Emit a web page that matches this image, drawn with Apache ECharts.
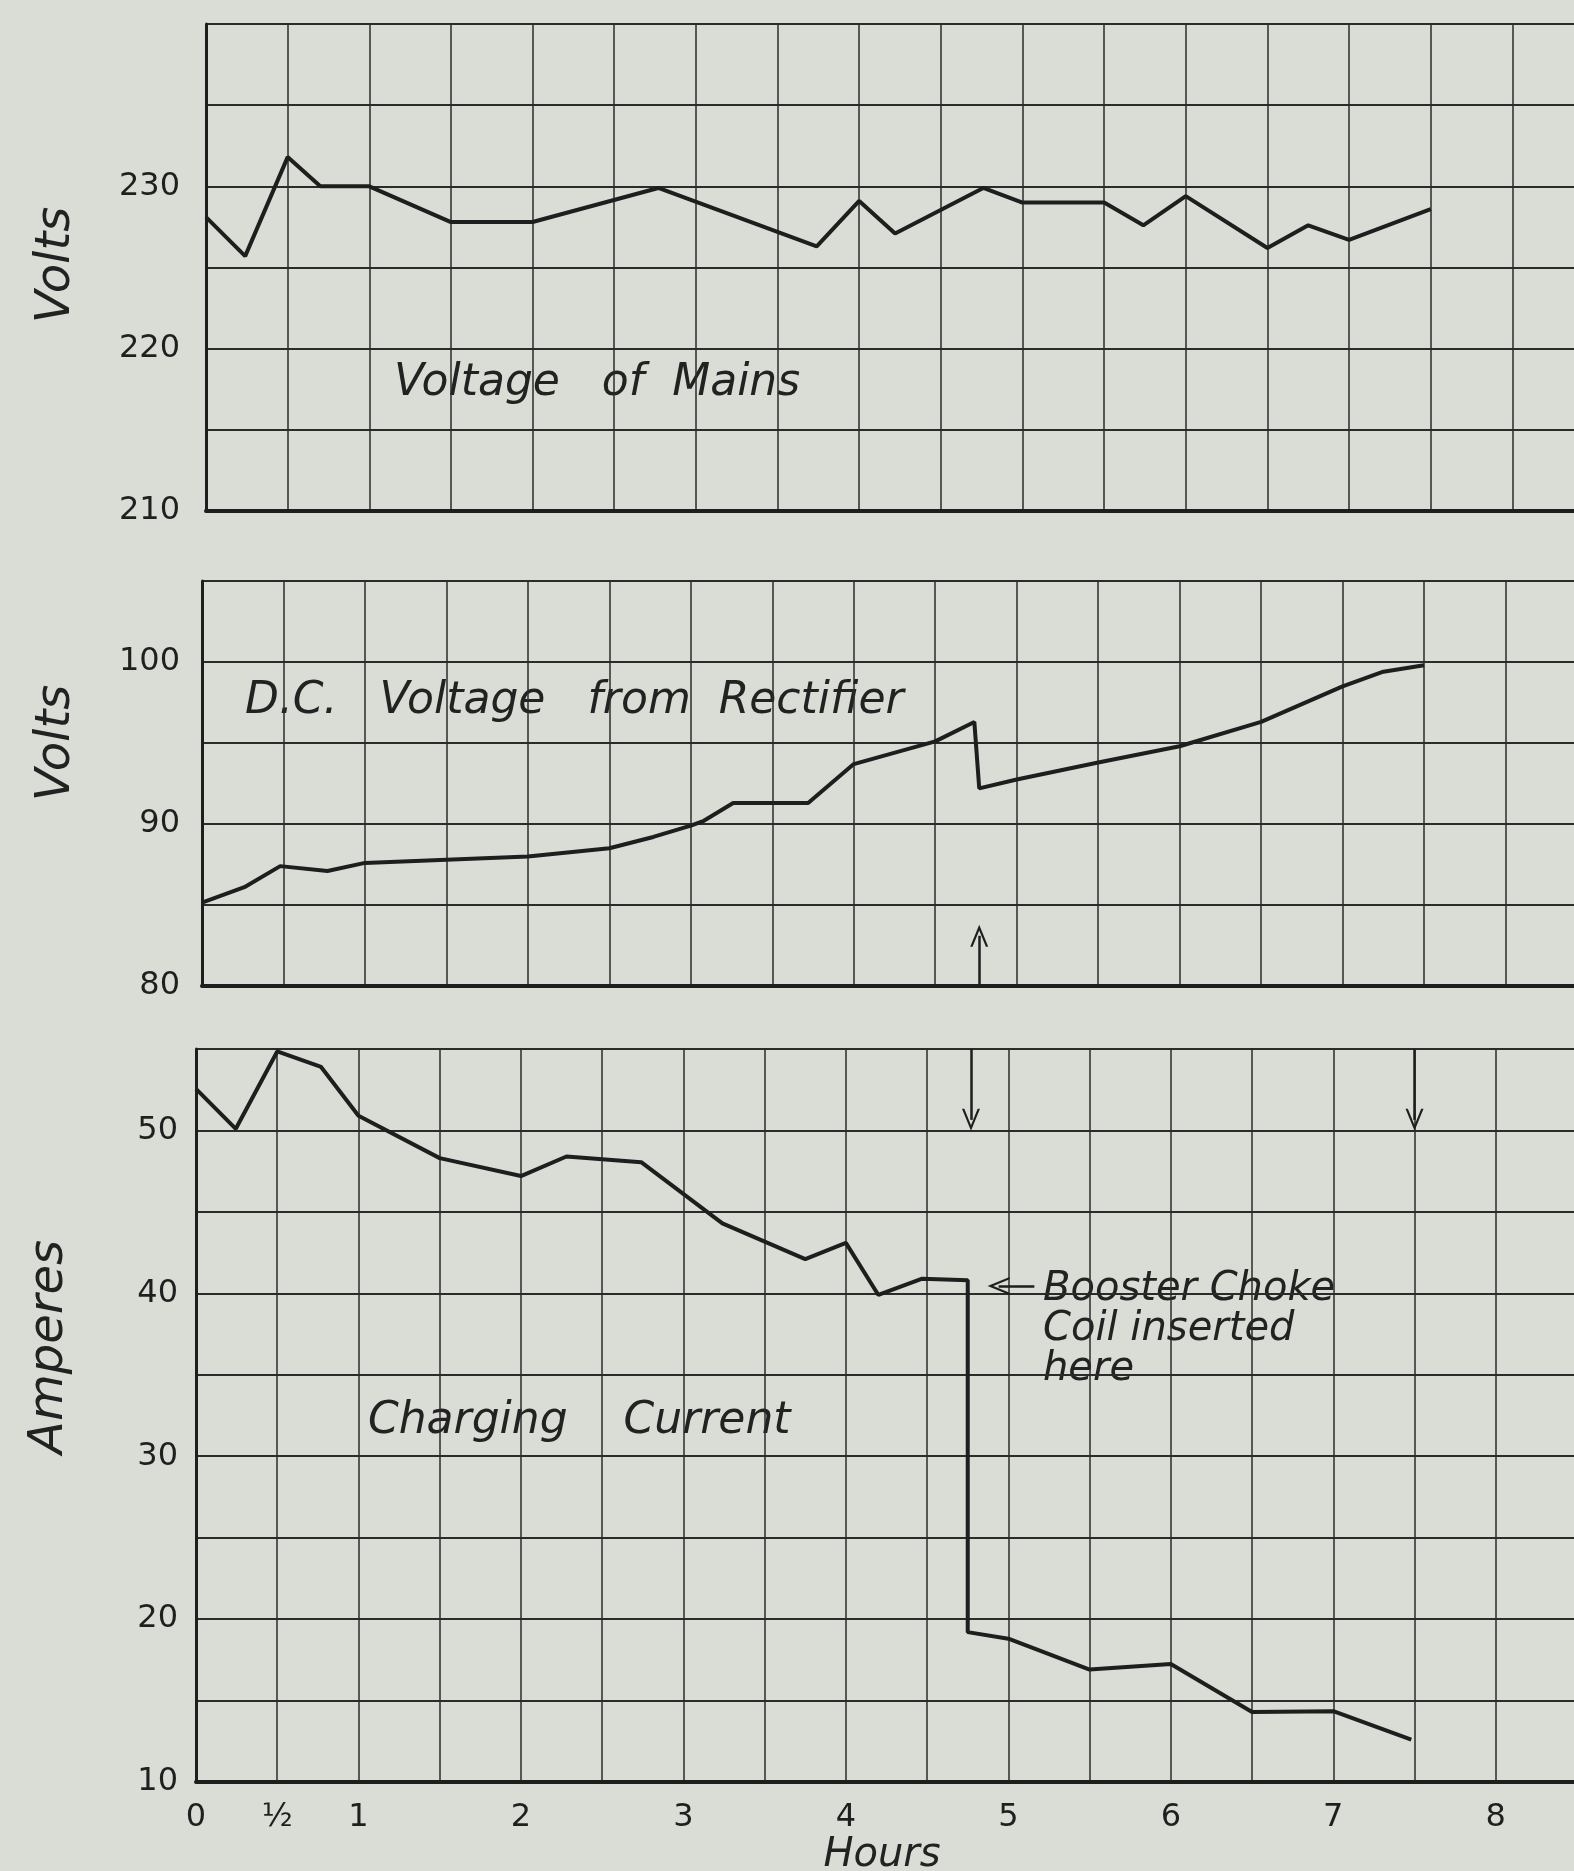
<!DOCTYPE html>
<html>
<head>
<meta charset="utf-8">
<script src="https://cdn.jsdelivr.net/npm/echarts@6/dist/echarts.min.js"></script>
<style>
    html, body {
        margin: 0;
        padding: 0;
        background: #d9ddd6;
    }
    #main {
        width: 1574px;
        height: 1871px;
    }
</style>
</head>
<body>
<div id="main"></div>
<script>
// readings against hours from start of charge
var mainsHours = [0, 0.24, 0.5, 0.7, 1.0, 1.5, 2.0, 2.77, 3.74, 4.0, 4.22, 4.76, 5.0, 5.5, 5.74, 6.0, 6.5, 6.75, 7.0, 7.5];
var mainsVolts = [228.1, 225.7, 231.8, 230.0, 230.0, 227.8, 227.8, 229.9, 226.3, 229.1, 227.1, 229.9, 229.0, 229.0, 227.6, 229.4, 226.2, 227.6, 226.7, 228.6];

var dcHours = [0, 0.26, 0.48, 0.77, 1.0, 1.5, 2.0, 2.5, 2.77, 3.0, 3.08, 3.26, 3.72, 4.0, 4.5, 4.74, 4.77, 5.0, 5.5, 6.0, 6.5, 7.0, 7.25, 7.5];
var dcVolts = [85.15, 86.1, 87.4, 87.1, 87.6, 87.8, 88.0, 88.5, 89.2, 89.9, 90.2, 91.3, 91.3, 93.7, 95.1, 96.3, 92.2, 92.75, 93.8, 94.8, 96.3, 98.5, 99.4, 99.8];

var currentHours = [0, 0.245, 0.5, 0.77, 1.0, 1.5, 2.0, 2.28, 2.74, 3.24, 3.75, 4.0, 4.2, 4.47, 4.75, 4.75, 5.0, 5.5, 6.0, 6.5, 7.0, 7.48];
var currentAmps = [52.55, 50.1, 54.85, 53.9, 50.9, 48.3, 47.2, 48.4, 48.05, 44.3, 42.1, 43.1, 39.9, 40.9, 40.8, 19.2, 18.8, 16.9, 17.25, 14.3, 14.35, 12.6];

var chokeHour = 4.77;
var endHour = 7.5;
var hourLabels = [0, 0.5, 1, 2, 3, 4, 5, 6, 7, 8];

var ink = '#1e1e1e';
var paper = '#d9ddd6';
var face = 'DejaVu Sans';
// thin open arrow head, tip at the top
var chevron = 'path://M0,10 L5,0 L10,10 L8.7,10 L5,2.6 L1.3,10 Z';

function pairs(xs, ys) {
    return xs.map(function (x, i) { return [x, ys[i]]; });
}

function xAxisFor(gridIndex, labelled) {
    return {
        type: 'value',
        gridIndex: gridIndex,
        min: 0,
        max: 8.5,
        interval: 0.5,
        axisLine: {show: true, onZero: false, lineStyle: {color: ink, width: 4}},
        axisTick: {show: false},
        axisLabel: {
            show: labelled,
            margin: 20,
            color: '#1f1f1f',
            fontFamily: face,
            fontSize: 32,
            formatter: function (v) {
                if (hourLabels.indexOf(v) < 0) return '';
                return v === 0.5 ? '½' : String(v);
            }
        },
        splitLine: {show: true, lineStyle: {color: '#2b2b2b', width: 1.5}}
    };
}

function yAxisFor(gridIndex, min, max, margin) {
    return {
        type: 'value',
        gridIndex: gridIndex,
        min: min,
        max: max,
        interval: 5,
        axisLine: {show: true, onZero: false, lineStyle: {color: ink, width: 3}},
        axisTick: {show: false},
        axisLabel: {
            margin: margin,
            color: '#1f1f1f',
            fontFamily: face,
            fontSize: 32,
            formatter: function (v) {
                return (v % 10 === 0 && v < max) ? String(v) : '';
            }
        },
        splitLine: {show: true, lineStyle: {color: '#2b2b2b', width: 2}}
    };
}

function arrowLine(from, to) {
    return [{coord: from}, {coord: to}];
}

function handText(x, y, text, size, rotation) {
    return {
        type: 'text',
        x: x,
        y: y,
        rotation: rotation || 0,
        silent: true,
        style: {
            text: text,
            fill: '#222',
            font: 'italic ' + size + 'px "' + face + '"',
            align: rotation ? 'center' : 'left',
            verticalAlign: 'middle',
            lineHeight: 40
        }
    };
}

var arrowStyle = {
    silent: true,
    symbol: ['none', chevron],
    symbolSize: [18, 22],
    label: {show: false},
    lineStyle: {color: ink, width: 2.5, type: 'solid'}
};

var chart = echarts.init(document.getElementById('main'), null, {renderer: 'canvas'});

chart.setOption({
    backgroundColor: paper,
    animation: false,
    grid: [
        {left: 206, top: 24, width: 1388, height: 487, outerBoundsMode: 'none'},
        {left: 202, top: 581, width: 1385, height: 405, outerBoundsMode: 'none'},
        {left: 196, top: 1049, width: 1381, height: 733, outerBoundsMode: 'none'}
    ],
    xAxis: [
        xAxisFor(0, false),
        xAxisFor(1, false),
        xAxisFor(2, true)
    ],
    yAxis: [
        yAxisFor(0, 210, 240, 26),
        yAxisFor(1, 80, 105, 22),
        yAxisFor(2, 10, 55, 18)
    ],
    series: [
        {
            name: 'Voltage of Mains',
            type: 'line',
            xAxisIndex: 0,
            yAxisIndex: 0,
            symbol: 'none',
            lineStyle: {color: ink, width: 4},
            data: pairs(mainsHours, mainsVolts)
        },
        {
            name: 'D.C. Voltage from Rectifier',
            type: 'line',
            xAxisIndex: 1,
            yAxisIndex: 1,
            symbol: 'none',
            lineStyle: {color: ink, width: 4},
            data: pairs(dcHours, dcVolts),
            markLine: Object.assign({
                data: [arrowLine([chokeHour, 80], [chokeHour, 83.1])]
            }, arrowStyle)
        },
        {
            name: 'Charging Current',
            type: 'line',
            xAxisIndex: 2,
            yAxisIndex: 2,
            symbol: 'none',
            lineStyle: {color: ink, width: 4},
            data: pairs(currentHours, currentAmps),
            markLine: Object.assign({
                data: [
                    arrowLine([chokeHour, 55], [chokeHour, 50.65]),
                    arrowLine([endHour, 55], [endHour, 50.65]),
                    arrowLine([5.16, 40.45], [4.94, 40.45])
                ]
            }, arrowStyle)
        }
    ],
    graphic: [
        handText(57, 265, 'Volts', 48, Math.PI / 2),
        handText(57, 743, 'Volts', 48, Math.PI / 2),
        handText(50, 1347, 'Amperes', 48, Math.PI / 2),
        handText(394, 384, 'Voltage   of  Mains', 44),
        handText(245, 702, 'D.C.   Voltage   from  Rectifier', 44),
        handText(368, 1422, 'Charging    Current', 44),
        handText(1043, 1330, 'Booster Choke\nCoil inserted\nhere', 40),
        {
            type: 'text',
            x: 882,
            y: 1856,
            silent: true,
            style: {
                text: 'Hours',
                fill: '#222',
                font: 'italic 40px "' + face + '"',
                align: 'center',
                verticalAlign: 'middle'
            }
        }
    ]
});
</script>
</body>
</html>
